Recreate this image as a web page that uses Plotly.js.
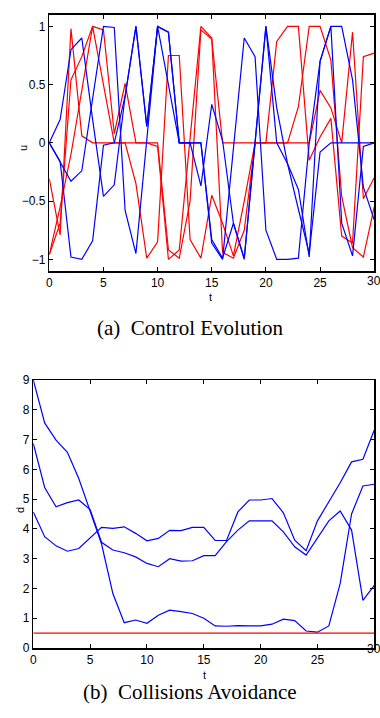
<!DOCTYPE html>
<html>
<head>
<meta charset="utf-8">
<script src="https://cdn.plot.ly/plotly-3.0.1.min.js"></script>
<style>
html,body{margin:0;padding:0;background:#fff;}
#chart{width:380px;height:718px;}
</style>
</head>
<body>
<div id="chart"></div>
<script>
// ---- data: time steps ----
const tSteps = [0,1,2,3,4,5,6,7,8,9,10,11,12,13,14,15,16,17,18,19,20,21,22,23,24,25,26,27,28,29,30];

// ---- (a) control evolution: red controls ----
const uRed1 = [-0.31,-0.79,0.98,0.06,0,0,0,0,-0.35,-0.99,-0.85,0.75,0.75,-0.83,-0.99,-0.45,-0.69,-0.97,-0.5,0,0,0,0,0.31,1.0,1.0,0.71,-0.46,-0.9,-0.98,-0.55];
const uRed2 = [-0.96,-0.69,0.54,0.74,1.0,0.97,0.08,0.51,0,0,-0.03,-1.0,-0.92,0.05,1.0,0.9,-0.94,-0.99,-0.75,0,0,0.87,1.0,1.0,-0.15,0.05,0.21,-0.8,-0.86,0.74,0.77];
const uRed3 = [-0.96,-0.55,-0.1,0.45,1.0,0.5,0,0,0,0,0,-0.92,-0.99,-0.5,0.97,0.89,0,0,0,0,0,0,0,0,0,0.45,0.3,0,0.95,-0.48,-0.3];

// ---- (a) control evolution: blue controls ----
const uBlue1 = [0,0.2,0.8,0.9,0.2,-0.46,-0.36,0.4,1.0,0.14,1.0,0.95,0,0,-0.37,0.33,0.02,-0.69,-0.99,0,1.0,0.3,-0.18,-0.57,-0.95,-0.08,0,0,0,0,0];
const uBlue2 = [0,-0.16,-0.33,-0.24,0.4,1.0,0.99,-0.58,-0.95,0,1.0,0.5,0,0,0,-0.86,-1.0,-0.05,0.9,0.74,-0.75,-1.0,-1.0,-0.99,0,0.7,1.0,1.0,0.54,-0.38,-0.66];
const uBlue3 = [0,-0.16,-0.98,-1.0,-0.84,-0.02,0,0.4,1.0,0.14,1.0,0.95,0,0,0,-0.83,-0.99,-0.69,-1.0,0,1.0,0.0,-0.18,-0.4,-0.98,0.7,1.0,-0.69,-0.97,-0.03,0];

// ---- (b) collisions avoidance: pairwise distances ----
const dPair1 = [9.0,7.56,6.98,6.57,5.69,4.6,3.5,1.83,0.85,0.94,0.83,1.1,1.27,1.22,1.16,1.0,0.74,0.73,0.75,0.74,0.74,0.8,0.97,0.92,0.57,0.53,0.74,2.17,4.5,5.44,5.5];
const dPair2 = [6.87,5.39,4.74,4.88,4.97,4.65,3.55,3.29,3.2,3.06,2.84,2.73,3.0,2.92,2.93,3.1,3.1,3.57,3.96,4.27,4.27,4.27,3.9,3.4,3.12,3.68,4.27,4.6,3.96,1.6,2.1];
const dPair3 = [4.57,3.74,3.43,3.25,3.34,3.71,4.05,4.02,4.07,3.85,3.6,3.68,3.95,3.94,4.05,4.05,3.61,3.61,4.57,4.97,4.97,5.02,4.54,3.62,3.27,4.27,4.9,5.55,6.25,6.34,7.32];
const dSafe = 0.5;
const safeLineT = [0, 30];

// ---- tick labels ----
const uTickVals = [-1,-0.5,0,0.5,1];
const uTickText = ['\u22121','\u22120.5','0','0.5','1'];
const tTickVals = [0,5,10,15,20,25,30];
const tTickText = ['0','5','10','15','20','25',''];   // last label drawn separately (clipped at the edge like the original)
const tLastLabel = '30';
const dTickVals = [0,1,2,3,4,5,6,7,8,9];

const W = 380, H = 718;
const RED = '#ff0000', BLUE = '#0000ff';
const LW = 1.2;

function line(y, color, xa, ya, x){
  return {x: x || tSteps, y: y, type:'scatter', mode:'lines', xaxis:xa, yaxis:ya,
          line:{color:color, width:LW}, hoverinfo:'skip', showlegend:false};
}

const traces = [
  line(uRed1, RED, 'x','y'), line(uRed2, RED, 'x','y'), line(uRed3, RED, 'x','y'),
  line(uBlue1, BLUE, 'x','y'), line(uBlue2, BLUE, 'x','y'), line(uBlue3, BLUE, 'x','y'),
  line(dPair1, BLUE, 'x2','y2'), line(dPair2, BLUE, 'x2','y2'), line(dPair3, BLUE, 'x2','y2'),
  line([dSafe, dSafe], RED, 'x2','y2', safeLineT)
];

const sans = 'Liberation Sans, Arial, sans-serif';
const serif = 'Liberation Serif, Times New Roman, serif';
const tickFont = {family:sans, size:12, color:'#000'};
const axBase = {
  showgrid:false, zeroline:false, showline:true, linecolor:'#000', linewidth:1.5,
  mirror:'ticks', ticks:'inside', ticklen:4, tickwidth:1, tickcolor:'#000',
  tickfont:tickFont, fixedrange:true
};

const px = v => v / W;
const py = v => 1 - v / H;

const layout = {
  width:W, height:H,
  margin:{l:0,r:0,t:0,b:0},
  paper_bgcolor:'#fff', plot_bgcolor:'#fff',
  showlegend:false,
  xaxis: Object.assign({}, axBase, {domain:[px(49.3), px(374.2)], range:[0,30], tickvals:tTickVals, ticktext:tTickText, anchor:'y'}),
  yaxis: Object.assign({}, axBase, {domain:[py(271), py(14.7)], range:[-1.1,1.1], tickvals:uTickVals, ticktext:uTickText, anchor:'x'}),
  xaxis2: Object.assign({}, axBase, {domain:[px(33.3), px(374.3)], range:[0,30], tickvals:tTickVals, ticktext:tTickText, anchor:'y2'}),
  yaxis2: Object.assign({}, axBase, {domain:[py(648), py(380)], range:[0,9], tickvals:dTickVals, anchor:'x2'}),
  annotations:[
    {text:tLastLabel, x:30, y:py(281), xref:'x', yref:'paper', showarrow:false, font:tickFont},
    {text:tLastLabel, x:30, y:py(658), xref:'x2', yref:'paper', showarrow:false, font:tickFont},
    {text:'u', x:px(15), y:py(143), xref:'paper', yref:'paper', showarrow:false, textangle:-90,
     font:{family:sans, size:11, color:'#000'}},
    {text:'t', x:px(211), y:py(296), xref:'paper', yref:'paper', showarrow:false, height:9, borderpad:0,
     font:{family:sans, size:11, color:'#000'}},
    {text:'(a)  Control Evolution', x:px(190), y:py(328), xref:'paper', yref:'paper', showarrow:false,
     font:{family:serif, size:21, color:'#000'}},
    {text:'d', x:px(12), y:py(515), xref:'paper', yref:'paper', showarrow:false, textangle:-90,
     font:{family:sans, size:11, color:'#000'}},
    {text:'t', x:px(204), y:py(680), xref:'paper', yref:'paper', showarrow:false, height:9, borderpad:0,
     font:{family:sans, size:11, color:'#000'}},
    {text:'(b)  Collisions Avoidance', x:px(190), y:py(706), xref:'paper', yref:'paper', showarrow:false,
     font:{family:serif, size:21, color:'#000'}}
  ]
};

Plotly.newPlot('chart', traces, layout, {displayModeBar:false, staticPlot:true});
</script>
</body>
</html>
